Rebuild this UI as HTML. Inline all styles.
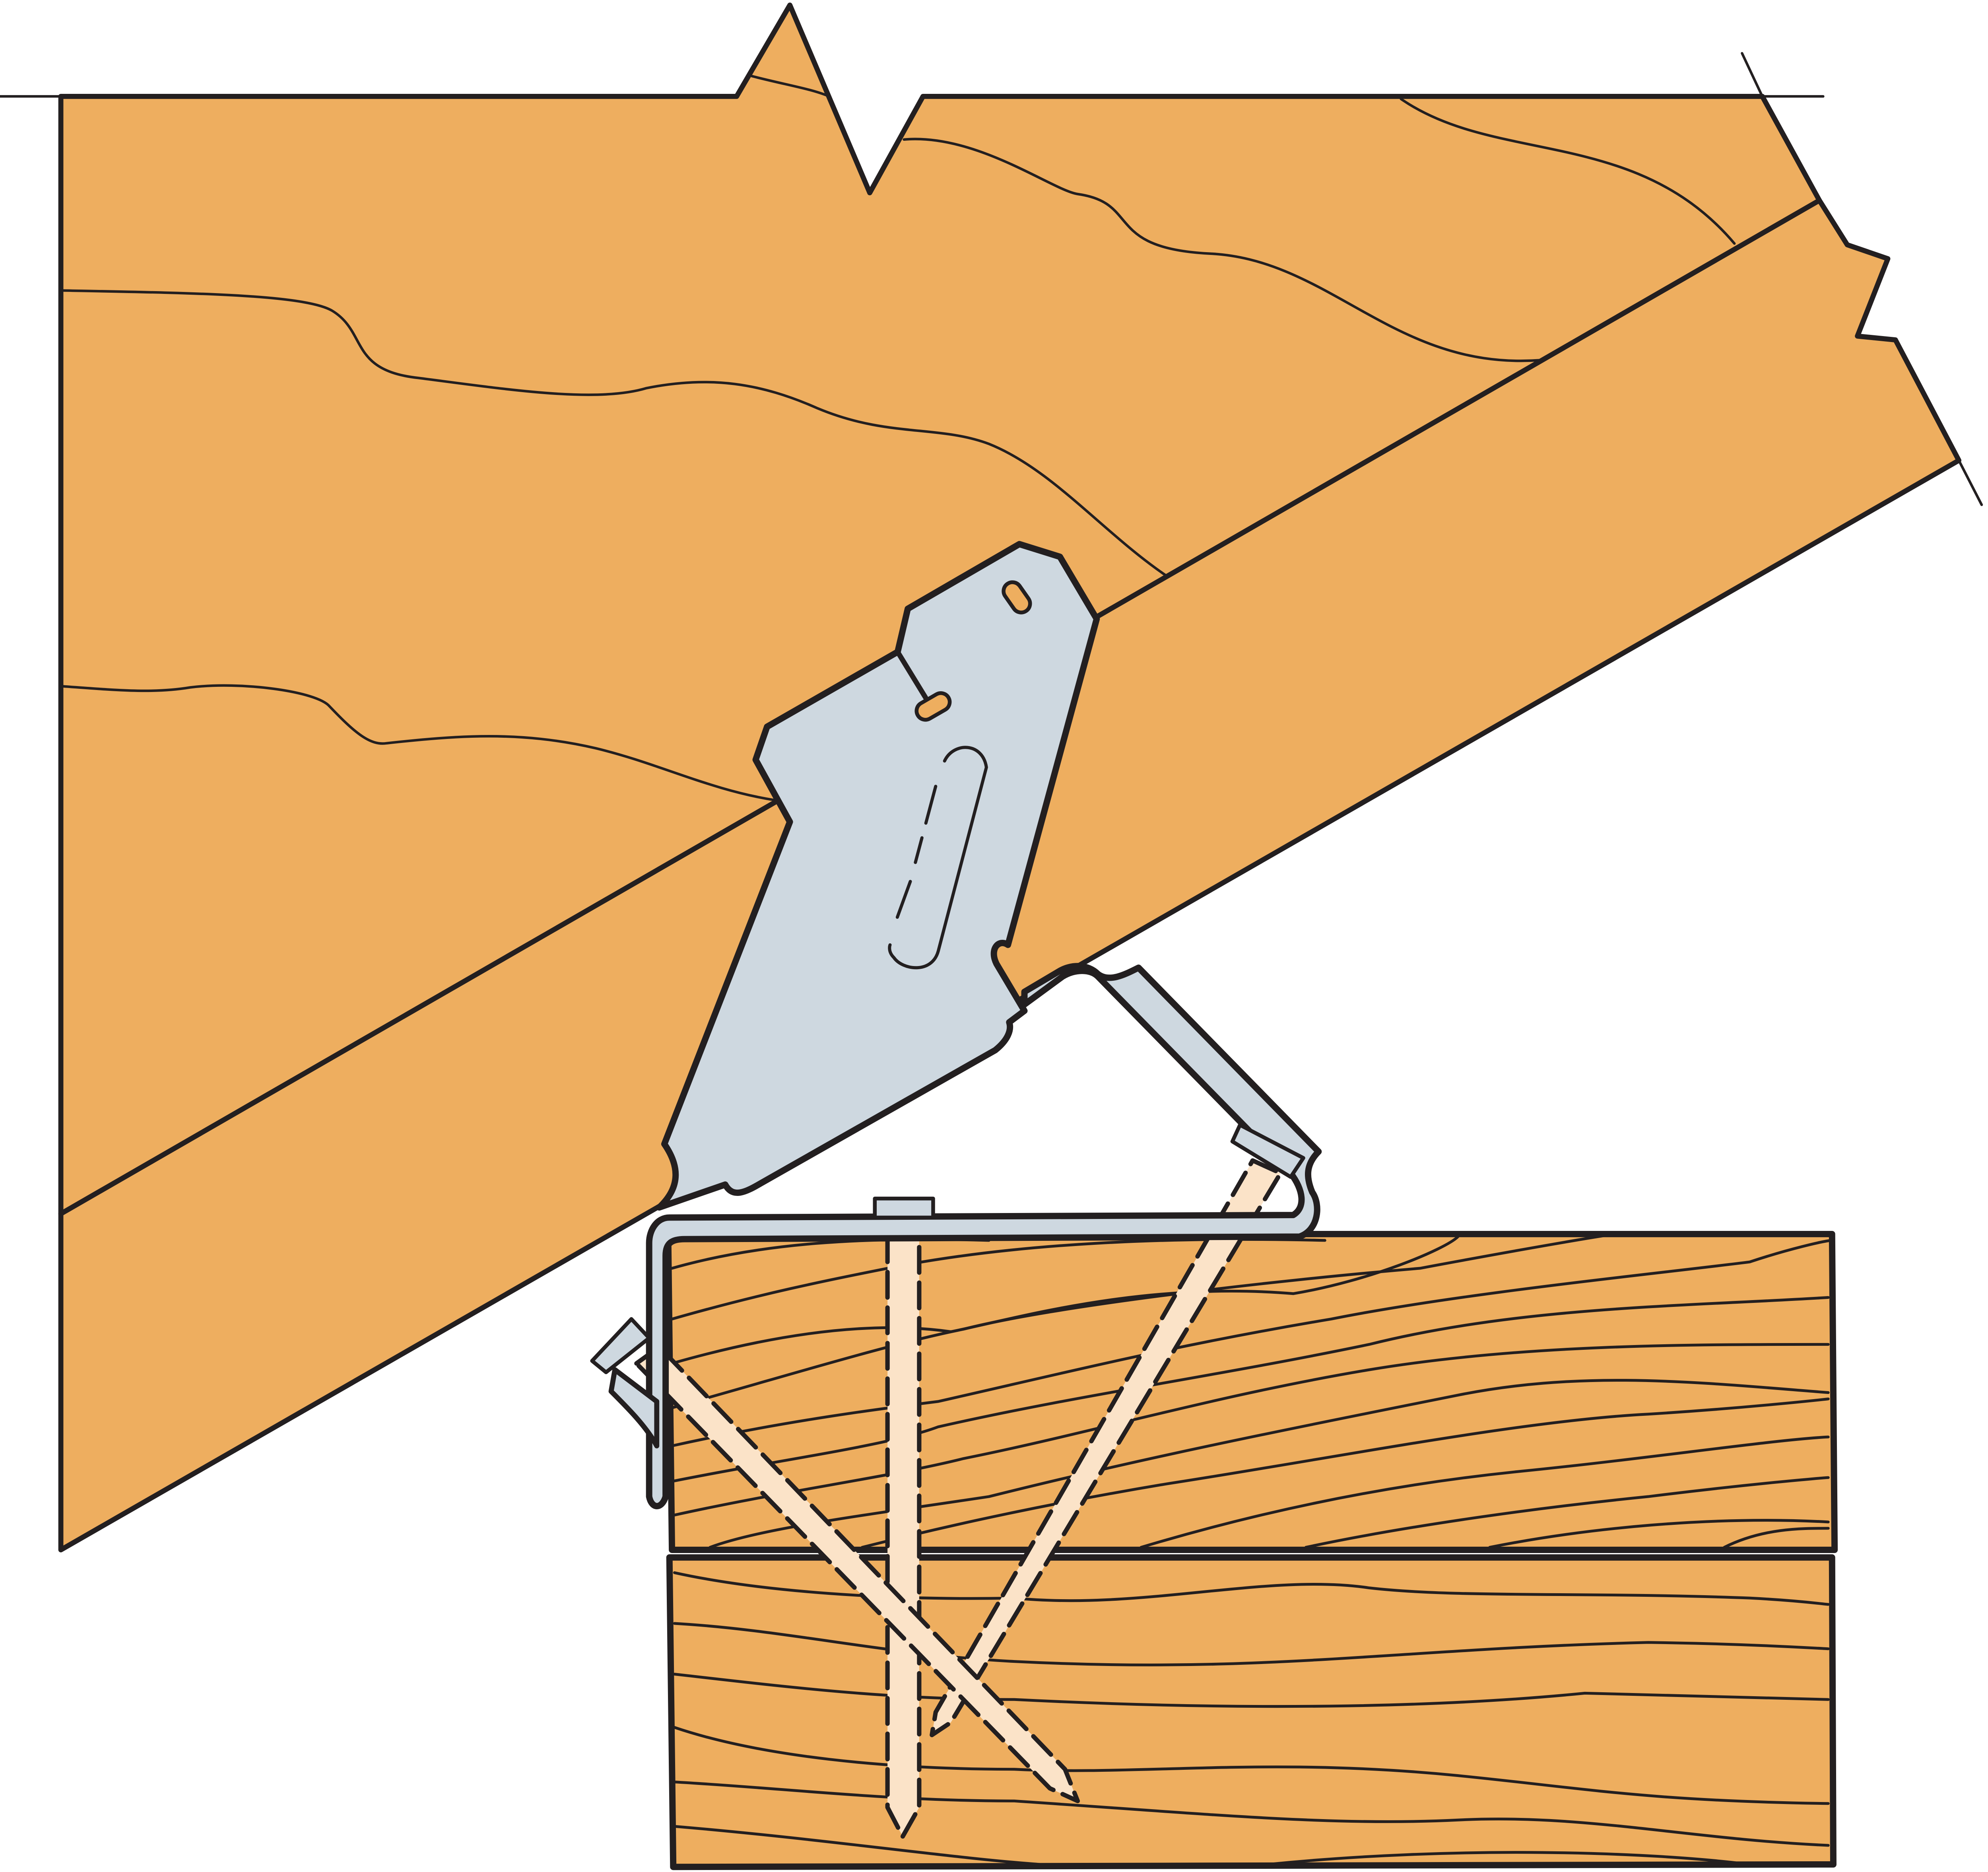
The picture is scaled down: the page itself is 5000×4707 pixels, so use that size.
<!DOCTYPE html>
<html><head><meta charset="utf-8"><style>html,body{margin:0;padding:0;background:#fff}svg{display:block}</style></head>
<body>
<svg width="5000" height="4707" viewBox="0 0 1568 1476" preserveAspectRatio="none" xmlns="http://www.w3.org/2000/svg">
<g stroke="#231f20" stroke-linejoin="round" stroke-linecap="round">
<path d="M48,76 L581,76 L623,4 L686,152 L728,76 L1390,76 L1435,158 L1457,193 L1489,204 L1465,265 L1495,268 L1545,363 L48,1222 Z" fill="#eeae5f" stroke-width="4"/>
<line x1="48" y1="957" x2="1435" y2="158" stroke-width="4"/>
<g fill="none" stroke-width="2">
<line x1="0" y1="76" x2="48" y2="76"/>
<line x1="1390" y1="76" x2="1438" y2="76"/>
<line x1="1374" y1="42" x2="1390" y2="76"/>
<line x1="1545" y1="363" x2="1563" y2="398"/>
<path d="M593,60 C620,67 640,70 654,76"/>
<path d="M713,110 C770,105 830,150 850,153 C900,160 870,196 955,200 C1050,205 1100,292 1214,284"/>
<path d="M1105,78 C1180,130 1290,100 1368,192"/>
<path d="M48,229 C150,231 240,232 262,245 C290,262 275,292 330,298 C400,307 470,318 510,306 C560,296 600,302 645,322 C700,345 740,335 780,350 C830,370 870,420 920,454"/>
<path d="M48,541 C90,544 120,547 150,542 C190,537 250,545 260,557 C280,578 292,588 305,586 C360,580 410,576 470,590 C520,602 560,623 612,631"/>
</g>
<path d="M527,973 L1445,973 L1447,1222 L530,1222 Z" fill="#eeae5f" stroke-width="5"/>
<path d="M528,1228 L1445,1228 L1446,1470 L531,1472 Z" fill="#eeae5f" stroke-width="5"/>
<g fill="none" stroke-width="2.2">
<path d="M530,1000 C600,980 680,975 780,978"/>
<path d="M530,1040 C600,1020 650,1010 700,1000 C800,980 920,975 1045,978"/>
<path d="M530,1075 C600,1055 680,1040 750,1050 C800,1040 900,1010 1020,1020 C1080,1010 1140,985 1150,975"/>
<path d="M530,1110 C620,1085 700,1060 760,1048 C830,1030 1000,1010 1120,1000 C1200,985 1270,973 1275,973"/>
<path d="M530,1140 C620,1120 700,1110 740,1105 C850,1080 930,1060 1050,1040 C1150,1020 1300,1005 1380,995 C1410,985 1440,978 1445,978"/>
<path d="M530,1168 C620,1150 700,1140 740,1125 C850,1100 960,1085 1080,1060 C1200,1030 1330,1030 1442,1023"/>
<path d="M530,1195 C620,1175 700,1165 760,1150 C860,1130 960,1100 1080,1080 C1200,1060 1330,1060 1442,1060"/>
<path d="M560,1220 C600,1205 680,1195 780,1180 C900,1150 1000,1130 1150,1100 C1250,1080 1340,1090 1442,1098"/>
<path d="M680,1220 C720,1210 800,1190 920,1170 C1050,1150 1200,1120 1300,1115 C1380,1110 1442,1103 1442,1103"/>
<path d="M900,1220 C1000,1190 1100,1170 1200,1160 C1300,1150 1400,1135 1442,1133"/>
<path d="M1030,1220 C1100,1205 1200,1190 1300,1180 C1380,1170 1440,1165 1442,1165"/>
<path d="M1175,1220 C1250,1205 1350,1195 1442,1200"/>
<path d="M1360,1220 C1390,1205 1420,1205 1442,1205"/>
<path d="M532,1240 C600,1255 700,1262 800,1260 C900,1270 1000,1240 1080,1252 C1150,1260 1250,1255 1380,1260 C1420,1262 1440,1265 1442,1265"/>
<path d="M532,1280 C620,1285 700,1305 800,1310 C1000,1320 1100,1300 1300,1295 C1380,1296 1440,1300 1442,1300"/>
<path d="M532,1320 C620,1330 700,1340 800,1340 C1000,1350 1150,1345 1250,1335 C1350,1338 1440,1340 1442,1340"/>
<path d="M532,1362 C600,1385 700,1395 800,1395 C900,1400 1000,1385 1150,1400 C1250,1410 1300,1420 1442,1422"/>
<path d="M532,1405 C620,1410 700,1420 800,1420 C950,1430 1050,1440 1150,1435 C1250,1430 1330,1450 1442,1455"/>
<path d="M532,1440 C650,1450 750,1465 820,1470 M1000,1470 C1150,1455 1300,1460 1380,1470"/>
</g>
<g fill="#fbe3c8" stroke-width="3.5" stroke-dasharray="20,8">
<path d="M700,975 L700,1425 L712,1448 L725,1425 L725,975 Z"/>
<path d="M988,915 L1010,925 L750,1358 L735,1368 L738,1350 Z"/>
<path d="M502,1075 L520,1062 L840,1395 L850,1420 L828,1410 Z"/>
</g>
<path d="M808,792 L838,770 C848,764 860,764 866,770 L1018,925 C1028,938 1030,952 1020,958 L528,960 C518,960 512,970 512,980 L512,1180 C514,1190 522,1190 525,1180 L525,990 C525,980 530,977 540,977 L1025,975 C1040,970 1042,950 1035,940 C1030,928 1030,918 1040,908 L898,763 C888,768 875,775 866,768 C858,760 845,760 835,766 L808,782 Z" fill="#ced8e0" stroke-width="5"/>
<path d="M978,887 L1028,913 L1018,928 L972,900 Z" fill="#ced8e0" stroke-width="3"/>
<path d="M498,1040 L512,1055 L478,1082 L467,1073 Z" fill="#ced8e0" stroke-width="3"/>
<path d="M485,1080 L518,1105 L518,1140 C510,1125 495,1110 482,1097 Z" fill="#ced8e0" stroke-width="4"/>
<rect x="690" y="945" width="46" height="15" fill="#ced8e0" stroke-width="3"/>
<path d="M865,488 L836,439 L804,429 L716,480 L708,514 L605,573 L596,599 L623,648 L524,902 C535,918 538,935 520,952 L572,934 C578,945 588,940 600,933 L785,828 C795,820 798,812 796,806 L808,797 L786,760 C780,748 788,740 795,745 Z" fill="#ced8e0" stroke-width="5"/>
<path d="M708,514 L730,550" fill="none" stroke-width="4"/>
<rect x="722" y="550" width="28" height="14" rx="7" transform="rotate(-30 736 557)" fill="#eeae5f" stroke-width="3"/>
<rect x="795" y="458" width="14" height="26" rx="7" transform="rotate(-35 802 471)" fill="#eeae5f" stroke-width="3"/>
<g fill="none" stroke-width="2.5">
<path d="M745,600 C752,585 775,585 778,605 L740,750 C735,768 712,765 705,755 C700,750 702,745 702,745"/>
<path d="M738,620 L722,680 M718,695 L706,728" stroke-dasharray="30,12"/>
</g>
</g>
</svg>
</body></html>
